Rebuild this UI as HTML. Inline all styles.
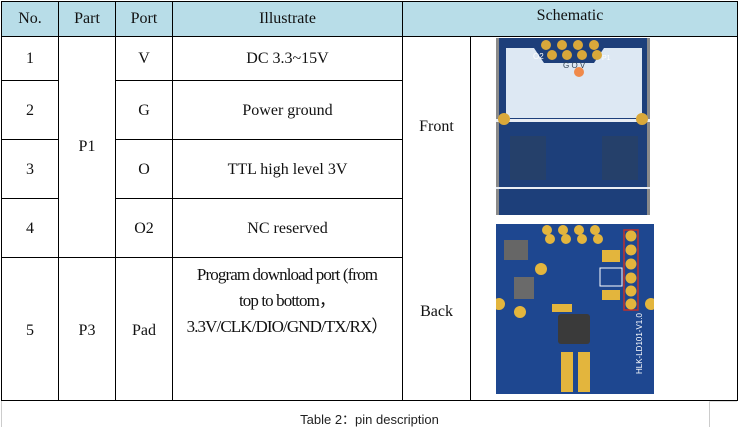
<!DOCTYPE html>
<html><head><style>
body{margin:0;width:739px;height:427px;background:#fff;position:relative;overflow:hidden;font-family:"Liberation Serif",serif;color:#111}
.h{position:absolute;background:#000}
.t{position:absolute;text-align:center;font-size:16px;line-height:20px}
</style></head><body>
<div style="position:absolute;left:1px;top:1px;width:736px;height:35px;background:#b8dde8"></div>
<div class="h" style="left:1px;top:1px;width:737px;height:1px"></div>
<div class="h" style="left:1px;top:36px;width:737px;height:1px"></div>
<div class="h" style="left:1px;top:80px;width:58px;height:1px"></div>
<div class="h" style="left:115px;top:80px;width:288px;height:1px"></div>
<div class="h" style="left:1px;top:139px;width:58px;height:1px"></div>
<div class="h" style="left:115px;top:139px;width:288px;height:1px"></div>
<div class="h" style="left:1px;top:198px;width:58px;height:1px"></div>
<div class="h" style="left:115px;top:198px;width:288px;height:1px"></div>
<div class="h" style="left:1px;top:257px;width:402px;height:1px"></div>
<div class="h" style="left:1px;top:400px;width:737px;height:1px"></div>
<div class="h" style="left:1px;top:1px;width:1px;height:400px"></div>
<div class="h" style="left:58px;top:1px;width:1px;height:400px"></div>
<div class="h" style="left:115px;top:1px;width:1px;height:400px"></div>
<div class="h" style="left:172px;top:1px;width:1px;height:400px"></div>
<div class="h" style="left:402px;top:1px;width:1px;height:400px"></div>
<div class="h" style="left:470px;top:36px;width:1px;height:365px"></div>
<div class="h" style="left:737px;top:1px;width:1px;height:400px"></div>
<div style="position:absolute;left:1px;top:401px;width:1px;height:26px;background:#ccc"></div>
<div style="position:absolute;left:709px;top:401px;width:1px;height:26px;background:#ccc"></div>
<div style="position:absolute;left:709px;top:401px;width:28px;height:1px;background:#ddd"></div>
<div class="t" style="left:2px;top:9px;width:56px">No.</div>
<div class="t" style="left:59px;top:9px;width:56px">Part</div>
<div class="t" style="left:116px;top:9px;width:56px">Port</div>
<div class="t" style="left:173px;top:9px;width:229px">Illustrate</div>
<div class="t" style="left:403px;top:6px;width:334px">Schematic</div>
<div class="t" style="left:2px;top:49px;width:56px">1</div>
<div class="t" style="left:116px;top:49px;width:56px">V</div>
<div class="t" style="left:173px;top:49px;width:229px">DC 3.3~15V</div>
<div class="t" style="left:2px;top:101px;width:56px">2</div>
<div class="t" style="left:116px;top:101px;width:56px">G</div>
<div class="t" style="left:173px;top:101px;width:229px">Power ground</div>
<div class="t" style="left:2px;top:160px;width:56px">3</div>
<div class="t" style="left:116px;top:160px;width:56px">O</div>
<div class="t" style="left:173px;top:160px;width:229px">TTL high level 3V</div>
<div class="t" style="left:2px;top:219px;width:56px">4</div>
<div class="t" style="left:116px;top:219px;width:56px">O2</div>
<div class="t" style="left:173px;top:219px;width:229px">NC reserved</div>
<div class="t" style="left:59px;top:137px;width:56px">P1</div>
<div class="t" style="left:403px;top:117px;width:67px">Front</div>
<div class="t" style="left:2px;top:321px;width:56px">5</div>
<div class="t" style="left:59px;top:321px;width:56px">P3</div>
<div class="t" style="left:116px;top:321px;width:56px">Pad</div>
<div class="t" style="left:168px;top:262px;width:238px;font-size:17px;letter-spacing:-0.9px;line-height:26px">Program download port (from<br>top to bottom，<br>3.3V/CLK/DIO/GND/TX/RX）</div>
<div class="t" style="left:403px;top:302px;width:67px">Back</div>
<div style="position:absolute;left:0;top:409px;width:739px;text-align:center;font-family:'Liberation Sans','Noto Sans CJK SC',sans-serif;font-size:13px;color:#222">Table 2：pin description</div>
<svg style="position:absolute;left:496px;top:38px" width="154" height="177">
<rect width="154" height="177" fill="#8a8a8a"/>
<rect x="3" y="0" width="148" height="177" fill="#1d3f7a"/>
<path d="M10 10 H38 L48 25 H98 L108 10 H146 V80 H10 Z" fill="#dde8f3"/>
<rect x="0" y="81" width="154" height="3" fill="#e9eef5"/>
<rect x="14" y="98" width="36" height="44" fill="#25406a"/>
<rect x="106" y="98" width="36" height="44" fill="#25406a"/>
<rect x="0" y="149" width="154" height="2" fill="#e9eef5"/>
<g fill="#d9a83a"><circle cx="50" cy="7" r="5"/><circle cx="66" cy="7" r="5"/><circle cx="82" cy="7" r="5"/><circle cx="98" cy="7" r="5"/>
<circle cx="56" cy="17" r="5"/><circle cx="71" cy="17" r="5"/><circle cx="86" cy="17" r="5"/><circle cx="101" cy="17" r="5"/>
<circle cx="8" cy="81" r="6"/><circle cx="146" cy="81" r="6"/></g>
<circle cx="83" cy="34" r="5" fill="#f08a4a"/>
<text x="37" y="21" font-size="8" fill="#fff" font-family="Liberation Sans">O2</text>
<text x="106" y="22" font-size="7" fill="#fff" font-family="Liberation Sans">P1</text>
<text x="67" y="30" font-size="8" fill="#345" font-family="Liberation Sans">G O V</text>
</svg>
<svg style="position:absolute;left:496px;top:224px" width="158" height="170">
<rect width="158" height="170" fill="#1e4790"/>
<rect x="128" y="6" width="14" height="80" fill="none" stroke="#c0302a" stroke-width="1.5"/>
<g fill="#e3b53d"><circle cx="51" cy="6" r="5"/><circle cx="67" cy="6" r="5"/><circle cx="83" cy="6" r="5"/><circle cx="99" cy="6" r="5"/>
<circle cx="54" cy="15" r="5"/><circle cx="70" cy="15" r="5"/><circle cx="86" cy="15" r="5"/><circle cx="102" cy="15" r="5"/>
<circle cx="135" cy="12" r="5.5"/><circle cx="135" cy="26" r="5.5"/><circle cx="135" cy="40" r="5.5"/><circle cx="135" cy="54" r="5.5"/><circle cx="135" cy="67" r="5.5"/><circle cx="135" cy="80" r="5.5"/>
<circle cx="45" cy="45" r="6"/><circle cx="24" cy="88" r="6"/><circle cx="3" cy="80" r="6"/><circle cx="155" cy="80" r="6"/></g>
<rect x="8" y="16" width="24" height="20" fill="#666"/>
<rect x="18" y="53" width="20" height="22" fill="#6a6a6a"/>
<rect x="62" y="90" width="32" height="30" rx="3" fill="#3a3a3a"/>
<rect x="104" y="44" width="22" height="18" fill="none" stroke="#fff"/>
<g fill="#e3b53d"><rect x="106" y="26" width="18" height="12"/><rect x="106" y="66" width="18" height="10"/>
<rect x="65" y="128" width="12" height="40"/><rect x="82" y="128" width="12" height="40"/><rect x="56" y="80" width="20" height="8"/></g>
<text x="146" y="150" font-size="8" fill="#fff" font-family="Liberation Sans" transform="rotate(-90 146 150)">HLK-LD101-V1.0</text>
</svg>
</body></html>
